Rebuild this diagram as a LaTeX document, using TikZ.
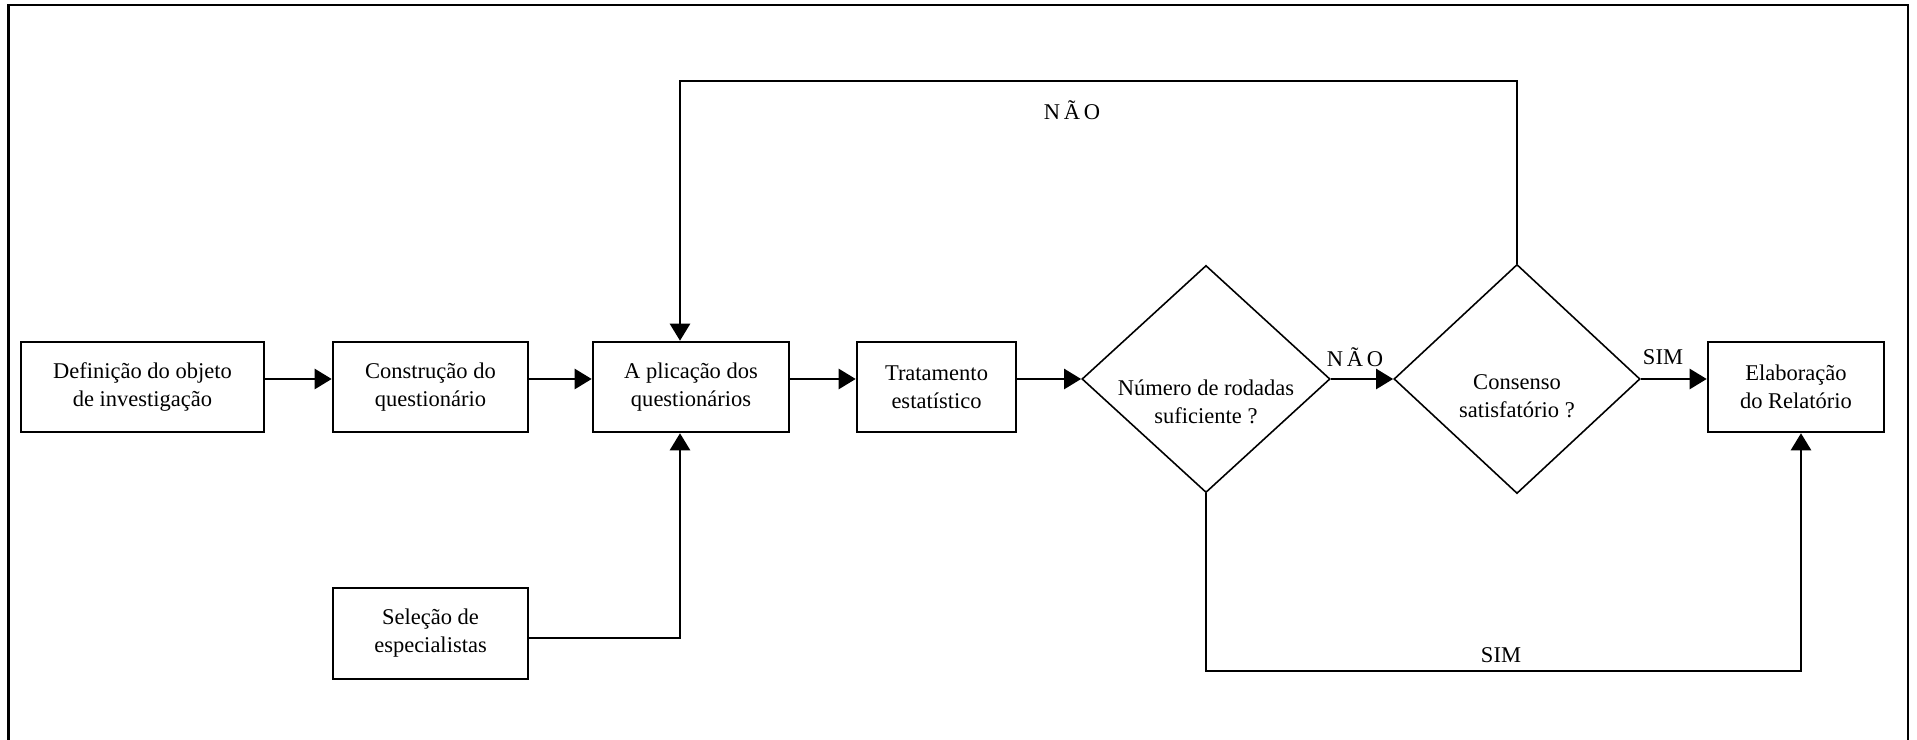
\documentclass[tikz,border=0pt]{standalone}
\usepackage{fontspec}
\setmainfont{Liberation Serif}
\usetikzlibrary{shapes.geometric,arrows.meta}
\newcommand{\txt}{\fontsize{6.4}{7.97}\selectfont}
\begin{document}
\begin{tikzpicture}[x=0.01cm,y=-0.01cm,
  box/.style={draw, line width=0.7pt, inner sep=0pt, align=center, font=\txt},
  decision/.style={draw, diamond, line width=0.45pt, inner sep=0pt},
  flow/.style={line width=0.7pt, -{Triangle[length=0.17cm,width=0.2cm]}},
  lbl/.style={font=\txt, inner sep=0pt, align=center}]
\useasboundingbox (0,0) rectangle (1917,740);
% outer frame, open at the bottom
\draw[line width=0.8pt] (8.6,740) -- (8.6,5) -- (1908,5) -- (1908,740);

% process boxes
\node[box, minimum width=2.43cm, minimum height=0.9cm] (def) at (142.5,387) {Definição do objeto\\de investigação};
\node[box, minimum width=1.95cm, minimum height=0.9cm] (con) at (430.5,387) {Construção do\\questionário};
\node[box, minimum width=1.96cm, minimum height=0.9cm] (apl) at (691,387) {A plicação dos\\questionários};
\node[box, minimum width=1.59cm, minimum height=0.9cm] (tra) at (936.5,387) {Tratamento\\estatístico};
\node[box, minimum width=1.95cm, minimum height=0.91cm] (sel) at (430.5,633.5) {Seleção de\\especialistas};
\node[box, minimum width=1.76cm, minimum height=0.9cm] (rel) at (1796,387) {Elaboração\\do Relatório};

% decisions
\node[decision, minimum width=2.48cm, minimum height=2.27cm] (num) at (1206,379) {};
\node[lbl] (numt) at (1206,402) {Número de rodadas\\suficiente ?};
\node[decision, minimum width=2.46cm, minimum height=2.29cm] (cons) at (1517,379) {};
\node[lbl] (const) at (1517,396) {Consenso\\satisfatório ?};

% main flow
\coordinate (ay) at (0,379);
\draw[flow] (def.east |- ay) -- (con.west |- ay);
\draw[flow] (con.east |- ay) -- (apl.west |- ay);
\draw[flow] (apl.east |- ay) -- (tra.west |- ay);
\draw[flow] (tra.east |- ay) -- (num.west);
\draw[flow] (num.east) -- (cons.west);
\draw[flow] (cons.east) -- (rel.west |- cons.east);

% feedback loop: not enough consensus
\coordinate (tl) at (680,81);
\draw[flow] (cons.north) -- (cons.north |- tl) -- (tl) -- (tl |- apl.north);

% experts feed the application step
\coordinate (sj) at (680,638);
\draw[flow] (sel.east |- sj) -- (sj) -- (sj |- apl.south);

% enough rounds: go to the report
\coordinate (bl) at (1206,671);
\coordinate (br) at (1801,671);
\draw[flow] (num.south) -- (bl) -- (br) -- (br |- rel.south);

% branch labels
\node[lbl] (nao1) at (1072,110) {N\,Ã\,O};
\node[lbl] (nao2) at (1355,357) {N\,Ã\,O};
\node[lbl] (sim1) at (1663,357) {SIM};
\node[lbl] (sim2) at (1501,655) {SIM};
\end{tikzpicture}
\end{document}
